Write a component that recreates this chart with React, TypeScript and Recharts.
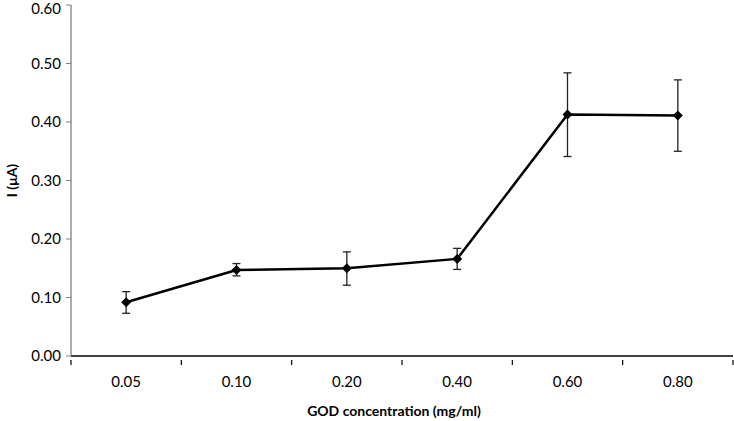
import { LineChart, Line, XAxis, YAxis, ErrorBar } from 'recharts';

const categories = ['0.05', '0.10', '0.20', '0.40', '0.60', '0.80'];
const currents = [0.092, 0.147, 0.15, 0.166, 0.413, 0.411];
const lowerBounds = [0.073, 0.137, 0.121, 0.148, 0.341, 0.35];
const upperBounds = [0.11, 0.158, 0.178, 0.184, 0.484, 0.472];
const yTicks = [0, 0.1, 0.2, 0.3, 0.4, 0.5, 0.6];

const FONT = 'Lato, "Open Sans", sans-serif';

const data = categories.map((c, i) => ({
  pos: i + 0.5,
  name: c,
  current: currents[i],
  err: [currents[i] - lowerBounds[i], upperBounds[i] - currents[i]],
}));

const CHART_W = 734;
const CHART_H = 421;
const Y_AXIS_W = 71;
const MARGIN_R = 1;
const STEP = (CHART_W - Y_AXIS_W - MARGIN_R) / categories.length;

// tick marks sit between categories, labels sit in the middle of each slot
const XTick = ({ x, y, payload }: any) => {
  const idx = payload.value as number;
  return (
    <g>
      <line x1={x} y1={y - 4} x2={x} y2={y + 1} stroke="#000" strokeWidth={1.2} />
      {idx < categories.length && (
        <text
          x={x + STEP / 2}
          y={y + 23}
          textAnchor="middle"
          fontSize={15}
          fontFamily={FONT}
          fill="#000"
        >
          {categories[idx]}
        </text>
      )}
    </g>
  );
};

const Diamond = ({ cx, cy }: any) => {
  if (cx == null || cy == null) return null;
  const r = 5;
  return (
    <polygon
      points={`${cx},${cy - r} ${cx + r},${cy} ${cx},${cy + r} ${cx - r},${cy}`}
      fill="#000"
    />
  );
};

export default function App() {
  return (
    <div style={{ position: 'absolute', left: 0, top: 0, background: '#fff' }}>
      <LineChart
        width={CHART_W}
        height={CHART_H}
        data={data}
        margin={{ top: 5, right: MARGIN_R, left: 0, bottom: 0 }}
      >
        <XAxis
          dataKey="pos"
          type="number"
          domain={[0, categories.length]}
          ticks={[0, 1, 2, 3, 4, 5, 6]}
          tick={<XTick />}
          tickLine={false}
          axisLine={{ stroke: '#000', strokeWidth: 1.3 }}
          height={65}
          interval={0}
          label={{
            value: 'GOD concentration (mg/ml)',
            position: 'insideBottom',
            offset: 5,
            dx: -8,
            style: { fontSize: 14, fontWeight: 700, fontFamily: FONT, fill: '#000' },
          }}
        />
        <YAxis
          type="number"
          domain={[0, 0.6]}
          ticks={yTicks}
          width={Y_AXIS_W}
          tickFormatter={(v: number) => v.toFixed(2)}
          tick={{ fontSize: 15, fontFamily: FONT, fill: '#000' }}
          tickSize={5}
          tickMargin={5}
          tickLine={{ stroke: '#7f7f7f' }}
          axisLine={{ stroke: '#7f7f7f', strokeWidth: 1.3 }}
          label={{
            value: 'I (μA)',
            angle: -90,
            position: 'insideLeft',
            offset: 12,
            style: { fontSize: 14, fontWeight: 700, fontFamily: FONT, fill: '#000', textAnchor: 'middle' },
          }}
        />
        <Line
          dataKey="current"
          stroke="#000"
          strokeWidth={2.5}
          dot={<Diamond />}
          activeDot={false}
          isAnimationActive={false}
        >
          <ErrorBar dataKey="err" width={4} stroke="#222" strokeWidth={1.3} direction="y" />
        </Line>
      </LineChart>
    </div>
  );
}
